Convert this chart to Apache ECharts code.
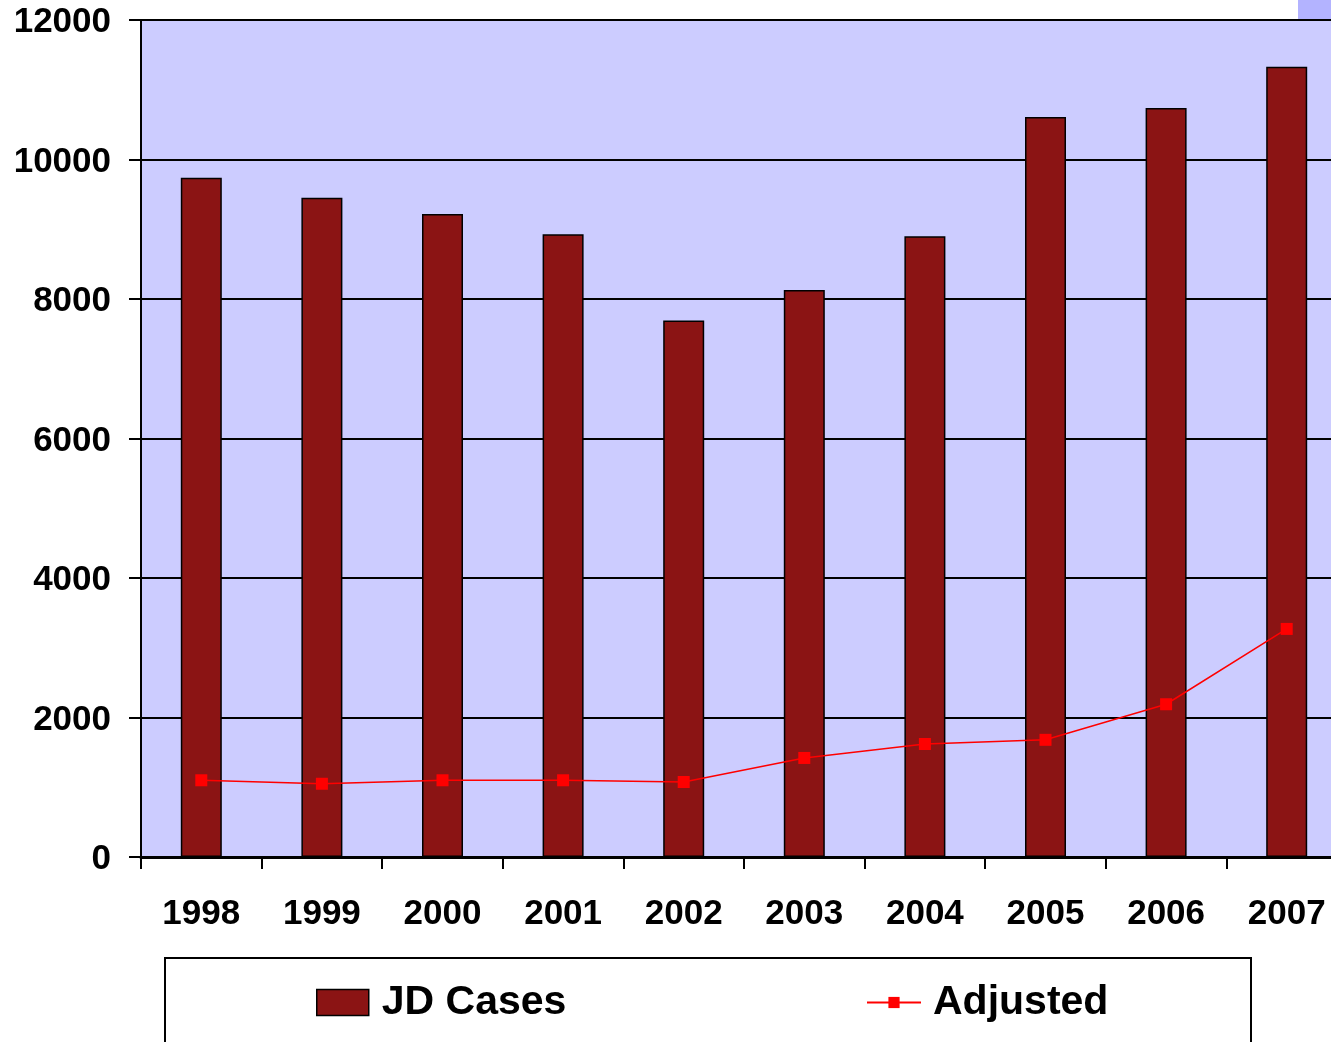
<!DOCTYPE html>
<html>
<head>
<meta charset="utf-8">
<script src="https://cdn.jsdelivr.net/npm/echarts@6/dist/echarts.min.js"></script>
<style>html,body{margin:0;padding:0;background:#fff;overflow:hidden;}#c{width:1347px;height:1042px;}</style>
</head>
<body>
<div id="c"></div>
<script>
var years = ['1998','1999','2000','2001','2002','2003','2004','2005','2006','2007'];
var jdCases = [9740, 9450, 9220, 8930, 7690, 8130, 8900, 10610, 10740, 11330];
var adjusted = [1100, 1050, 1100, 1100, 1075, 1420, 1620, 1680, 2190, 3270];
var yTicks = [0, 2000, 4000, 6000, 8000, 10000, 12000];

var chart = echarts.init(document.getElementById('c'));
var font = '"Liberation Sans", Arial, sans-serif';
chart.setOption({
  animation: false,
  backgroundColor: '#ffffff',
  graphic: [
    {type: 'rect', shape: {x: 1298, y: 0, width: 49, height: 20}, style: {fill: '#b3b3ff'}, z: 0},
    {type: 'rect', shape: {x: 165, y: 958, width: 1086, height: 100}, style: {fill: '#ffffff', stroke: '#000', lineWidth: 2}, z: 0}
  ],
  grid: {left: 141, top: 20, right: 0, height: 837, show: true, backgroundColor: '#ccccff', borderWidth: 0},
  legend: [
    {data: [{name: 'JD Cases', icon: 'rect'}], left: 316, top: 982, padding: 0, itemWidth: 52, itemHeight: 26, z: 5,
     itemStyle: {borderColor: '#000', borderWidth: 1.5},
     textStyle: {fontFamily: font, fontWeight: 'bold', fontSize: 41, color: '#000', padding: [0, 0, 0, 8]}},
    {data: ['Adjusted'], left: 866, top: 982, padding: 0, itemWidth: 54, itemHeight: 14, z: 5,
     textStyle: {fontFamily: font, fontWeight: 'bold', fontSize: 41, color: '#000', padding: [0, 0, 0, 7]}}
  ],
  xAxis: {
    type: 'category', data: years,
    axisLine: {lineStyle: {color: '#000', width: 3}},
    axisTick: {show: true, length: 12, lineStyle: {color: '#000', width: 2}, alignWithLabel: false},
    axisLabel: {margin: 40, fontFamily: font, fontWeight: 'bold', fontSize: 35, color: '#000'}
  },
  yAxis: {
    type: 'value', min: 0, max: 12000, interval: 2000,
    axisLine: {show: true, lineStyle: {color: '#000', width: 2}},
    axisTick: {show: true, length: 12, lineStyle: {color: '#000', width: 2}},
    axisLabel: {margin: 30, fontFamily: font, fontWeight: 'bold', fontSize: 35, color: '#000',
      lineHeight: 35, verticalAlign: 'top', padding: [-15, 0, 0, 0],
      formatter: function (v) { return yTicks.indexOf(v) >= 0 ? String(v) : ''; }},
    splitLine: {show: true, lineStyle: {color: '#000', width: 2}}
  },
  series: [
    {name: 'JD Cases', type: 'bar', data: jdCases, barWidth: 41,
     itemStyle: {color: '#8b1414', borderColor: '#000', borderWidth: 1.5}},
    {name: 'Adjusted', type: 'line', data: adjusted, symbol: 'rect', symbolSize: 12,
     lineStyle: {color: '#ff0000', width: 1.5}, itemStyle: {color: '#ff0000'}, z: 3}
  ]
});
</script>
</body>
</html>
